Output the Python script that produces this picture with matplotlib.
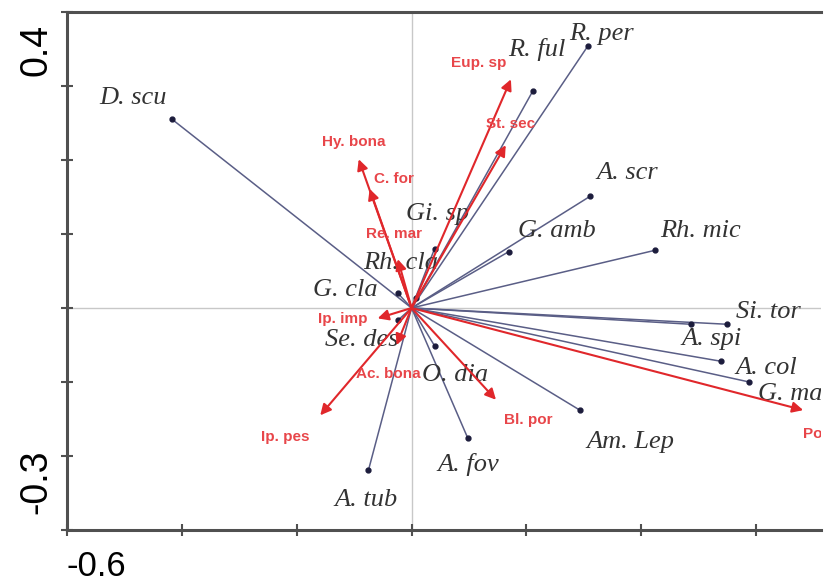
import numpy as np
from matplotlib import pyplot as plt

# species scores (blue lines)
species = ['D. scu', 'R. per', 'R. ful', 'A. scr', 'G. amb', 'Rh. mic', 'Gi. sp', 'Rh. cla',
           'G. cla', 'Se. des', 'O. dia', 'A. fov', 'A. tub', 'Am. Lep', 'Si. tor', 'A. spi',
           'A. col', 'G. ma']
sp_x = [-0.417, 0.307, 0.211, 0.311, 0.169, 0.424, 0.040, 0.007,
        -0.024, -0.023, 0.040, 0.098, -0.075, 0.293, 0.550, 0.487,
        0.539, 0.588]
sp_y = [0.255, 0.354, 0.293, 0.151, 0.076, 0.078, 0.080, 0.014,
        0.020, -0.016, -0.051, -0.176, -0.219, -0.138, -0.022, -0.022,
        -0.072, -0.100]

# environmental variables (red arrows)
env = ['Eup. sp', 'St. sec', 'Hy. bona', 'C. for', 'Re. mar', 'Ip. imp', 'Ac. bona',
       'Ip. pes', 'Bl. por', 'Po']
env_x = [0.173, 0.164, -0.092, -0.073, -0.024, -0.059, -0.026, -0.159, 0.147, 0.682]
env_y = [0.309, 0.220, 0.201, 0.161, 0.066, -0.014, -0.050, -0.145, -0.124, -0.138]

# label positions (data units) and alignment
sp_lab = [(-0.485, 0.284, 'center'), (0.330, 0.370, 'center'), (0.218, 0.349, 'center'),
          (0.375, 0.182, 'center'), (0.253, 0.104, 'center'), (0.504, 0.104, 'center'),
          (0.045, 0.127, 'center'), (-0.019, 0.061, 'center'), (-0.115, 0.024, 'center'),
          (-0.086, -0.043, 'center'), (0.075, -0.091, 'center'), (0.098, -0.212, 'center'),
          (-0.079, -0.259, 'center'), (0.382, -0.181, 'center'), (0.621, -0.005, 'center'),
          (0.522, -0.042, 'center'), (0.618, -0.081, 'center'), (0.604, -0.116, 'left')]
env_lab = [(0.068, 0.331, 'left'), (0.173, 0.249, 'center'), (-0.101, 0.224, 'center'),
           (-0.030, 0.174, 'center'), (-0.031, 0.100, 'center'), (-0.120, -0.015, 'center'),
           (-0.040, -0.089, 'center'), (-0.220, -0.174, 'center'), (0.204, -0.151, 'center'),
           (0.682, -0.170, 'left')]

blue = '#5a5e86'
red = '#e0272b'
red_txt = '#e8464a'

fig = plt.figure(figsize=(8.31, 5.85), dpi=100)
ax = fig.add_axes([67 / 831, 1 - 530 / 585, (821 - 67) / 831, (530 - 12) / 585])

ax.axhline(0, color='#c8c8c8', lw=1, zorder=0)
ax.axvline(0, color='#c8c8c8', lw=1, zorder=0)

for i in range(len(species)):
    ax.plot([0, sp_x[i]], [0, sp_y[i]], color=blue, lw=1.1, zorder=2)
    ax.plot(sp_x[i], sp_y[i], 'o', color='#1c1c3c', ms=3.5, zorder=3)
    lx, ly, ha = sp_lab[i]
    ax.text(lx, ly, species[i], ha=ha, va='center', fontsize=19, style='italic',
            family='Liberation Serif', color='#333333', zorder=4, clip_on=True)

for i in range(len(env)):
    ax.annotate('', xy=(env_x[i], env_y[i]), xytext=(0, 0),
                arrowprops=dict(arrowstyle='-|>', color=red, lw=1.5, mutation_scale=16,
                                shrinkA=0, shrinkB=0), zorder=5)
    lx, ly, ha = env_lab[i]
    ax.text(lx, ly, env[i], ha=ha, va='center', fontsize=11, fontweight='bold',
            family='Liberation Sans', color=red_txt, zorder=6, clip_on=True)

ax.set_xlim(-0.6, 0.713)
ax.set_ylim(-0.3, 0.4)
ax.set_xticks(np.arange(-0.6, 0.61, 0.2))
ax.set_yticks(np.arange(-0.3, 0.41, 0.1))
ax.set_xticklabels([])
ax.set_yticklabels([])
ax.tick_params(axis='both', direction='inout', length=8, width=1.5, color='#505050')
for s in ['left', 'top', 'bottom']:
    ax.spines[s].set_color('#505050')
    ax.spines[s].set_linewidth(2.2)
ax.spines['right'].set_visible(False)

# axis end labels
fig.text(67 / 831, 1 - 566 / 585, '-0.6', ha='left', va='center', fontsize=25,
         family='Liberation Sans')
fig.text(36 / 831, 1 - 50 / 585, '0.4', ha='center', va='center', rotation=90,
         fontsize=27, family='Liberation Sans')
fig.text(36 / 831, 1 - 482 / 585, '-0.3', ha='center', va='center', rotation=90,
         fontsize=27, family='Liberation Sans')

plt.savefig('out.png', dpi=100)
